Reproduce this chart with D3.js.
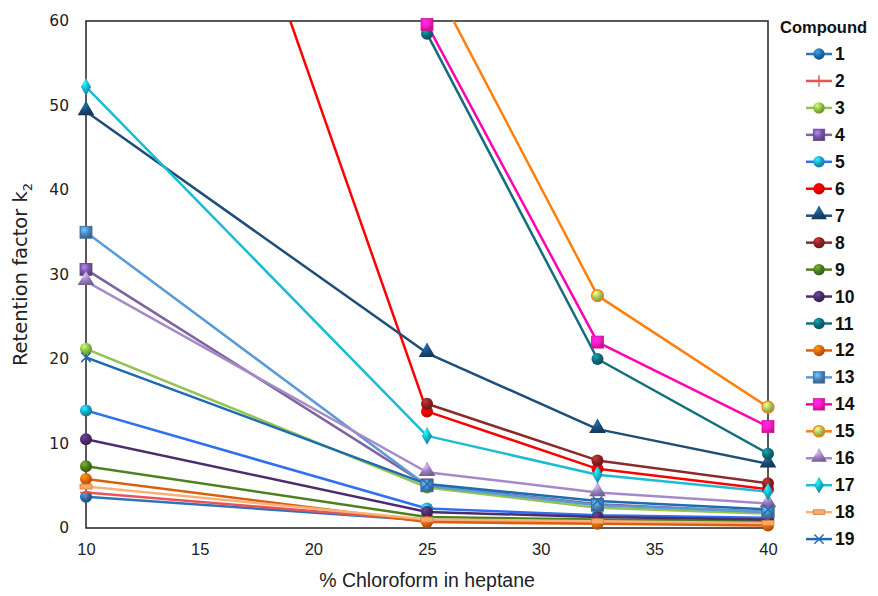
<!DOCTYPE html>
<html>
<head>
<meta charset="utf-8">
<script src="https://cdn.jsdelivr.net/npm/d3@7"></script>
<style>
  body { margin: 0; background: #fff; }
  svg { display: block; }
</style>
</head>
<body>
<div id="chart"></div>
<script>
// % chloroform in heptane
const xValues = [10, 25, 32.5, 40];
const compounds = ["1","2","3","4","5","6","7","8","9","10","11","12","13","14","15","16","17","18","19"];

// retention factor k2 per compound (null = not measured)
const k1  = [3.7, 0.9, 0.7, 0.6];
const k2  = [4.2, 0.9, 0.7, 0.5];
const k3  = [21.2, 4.8, 2.4, 1.7];
const k4  = [30.6, 5.1, 2.8, 1.9];
const k5  = [13.9, 2.3, 1.5, 1.2];
const k6  = [129, 13.8, 7.0, 4.6];
const k7  = [49.3, 20.7, 11.7, 7.6];
const k8  = [null, 14.7, 8.0, 5.3];
const k9  = [7.3, 1.3, 1.0, 0.8];
const k10 = [10.5, 1.9, 1.3, 1.0];
const k11 = [null, 58.5, 20.0, 8.8];
const k12 = [5.8, 0.7, 0.5, 0.3];
const k13 = [35.0, 5.0, 2.7, 1.9];
const k14 = [null, 59.6, 22.0, 12.0];
const k15 = [null, 66.0, 27.5, 14.3];
const k16 = [29.2, 6.6, 4.2, 2.9];
const k17 = [52.2, 10.9, 6.3, 4.3];
const k18 = [4.9, 1.0, 0.8, 0.6];
const k19 = [20.2, 5.2, 3.2, 2.2];
const seriesValues = [k1,k2,k3,k4,k5,k6,k7,k8,k9,k10,k11,k12,k13,k14,k15,k16,k17,k18,k19];

const xTicks = [10, 15, 20, 25, 30, 35, 40];
const yTicks = [0, 10, 20, 30, 40, 50, 60];

// styles: line colour, marker fill, marker shape
const styles = [
  {line: "#2E75B6", fill: "#1F6DB0", shape: "sphere"},
  {line: "#E8545A", fill: "#E8545A", shape: "plus"},
  {line: "#92C353", fill: "#8CBF45", shape: "sphere"},
  {line: "#8064A2", fill: "#7A58A8", shape: "square"},
  {line: "#3070F0", fill: "#18A3C4", shape: "sphere"},
  {line: "#FF0000", fill: "#F00000", shape: "sphere"},
  {line: "#1F4E79", fill: "#1A4A7A", shape: "triangle"},
  {line: "#8B2A2A", fill: "#8A2222", shape: "sphere"},
  {line: "#4F8020", fill: "#4A7A1E", shape: "sphere"},
  {line: "#4B2D6E", fill: "#4A2C6A", shape: "sphere"},
  {line: "#11707C", fill: "#0F6C78", shape: "sphere"},
  {line: "#D9600C", fill: "#E0650A", shape: "sphere"},
  {line: "#5B9BD5", fill: "#4A86C0", shape: "square"},
  {line: "#FF00B4", fill: "#FF1AC0", shape: "square"},
  {line: "#FF7F0E", fill: "#A9C75A", shape: "sphere15"},
  {line: "#A48BC8", fill: "#9A80C0", shape: "triangle"},
  {line: "#1CBCD4", fill: "#16B0C8", shape: "diamond"},
  {line: "#F9B07A", fill: "#F9A86A", shape: "dash"},
  {line: "#1E6BB0", fill: "#1E6BB0", shape: "cross"}
];

const W = 878, H = 596;
const margin = {top: 21, right: 110, bottom: 68, left: 86};
const width = W - margin.left - margin.right;   // 682
const height = H - margin.top - margin.bottom;  // 507

const svg = d3.select("#chart").append("svg")
  .attr("width", W).attr("height", H);

const defs = svg.append("defs");
defs.append("clipPath").attr("id", "plotclip")
  .append("rect").attr("x", 0).attr("y", 0).attr("width", width).attr("height", height);

// sphere gradients
styles.forEach(function(s, i) {
  const g = defs.append("radialGradient").attr("id", "grad" + i)
    .attr("cx", "35%").attr("cy", "30%").attr("r", "70%");
  g.append("stop").attr("offset", "0%").attr("stop-color", d3.color(s.fill).brighter(1.2));
  g.append("stop").attr("offset", "55%").attr("stop-color", s.fill);
  g.append("stop").attr("offset", "100%").attr("stop-color", d3.color(s.fill).darker(0.8));
});

const g = svg.append("g").attr("transform", "translate(" + margin.left + "," + margin.top + ")");

const x = d3.scaleLinear().domain([10, 40]).range([0, width]);
const y = d3.scaleLinear().domain([0, 60]).range([height, 0]);

// frame
g.append("rect").attr("x", 0).attr("y", 0).attr("width", width).attr("height", height)
  .attr("fill", "none").attr("stroke", "#222").attr("stroke-width", 1.5);

// y axis labels
g.append("g")
  .call(d3.axisLeft(y).tickValues(yTicks).tickSize(0).tickPadding(17))
  .call(a => a.select(".domain").remove())
  .selectAll("text")
    .attr("font-family", "DejaVu Sans, Verdana, sans-serif")
    .attr("font-size", 15.5).attr("fill", "#222");

// x axis labels
g.append("g").attr("transform", "translate(0," + height + ")")
  .call(d3.axisBottom(x).tickValues(xTicks).tickSize(0).tickPadding(15))
  .call(a => a.select(".domain").remove())
  .selectAll("text")
    .attr("font-family", "Liberation Sans, Arial, sans-serif")
    .attr("font-size", 16.5).attr("fill", "#222");

// titles
svg.append("text")
  .attr("x", margin.left + width / 2).attr("y", 587)
  .attr("text-anchor", "middle")
  .attr("font-family", "Liberation Sans, Arial, sans-serif")
  .attr("font-size", 19.5).attr("fill", "#222")
  .text("% Chloroform in heptane");

const yt = svg.append("text")
  .attr("transform", "translate(27," + (margin.top + height / 2) + ") rotate(-90)")
  .attr("text-anchor", "middle")
  .attr("font-family", "DejaVu Sans, Verdana, sans-serif")
  .attr("font-size", 19.5).attr("fill", "#222");
yt.append("tspan").text("Retention factor k");
yt.append("tspan").attr("font-size", 13).attr("dy", 5).text("2");

// marker drawing
function drawMarker(sel, s, i, cx, cy, scale) {
  const r = 6 * scale;
  if (s.shape === "sphere" || s.shape === "sphere15") {
    sel.append("circle").attr("cx", cx).attr("cy", cy).attr("r", r)
      .attr("fill", "url(#grad" + i + ")")
      .attr("stroke", s.shape === "sphere15" ? s.line : "none")
      .attr("stroke-width", s.shape === "sphere15" ? 1.2 : 0);
  } else if (s.shape === "square") {
    sel.append("rect").attr("x", cx - r).attr("y", cy - r)
      .attr("width", 2 * r).attr("height", 2 * r)
      .attr("fill", "url(#grad" + i + ")")
      .attr("stroke", d3.color(s.fill).darker(0.6)).attr("stroke-width", 0.8);
  } else if (s.shape === "triangle") {
    sel.append("path")
      .attr("d", d3.symbol().type(d3.symbolTriangle).size(120 * scale * scale)())
      .attr("transform", "translate(" + cx + "," + (cy - 1) + ")")
      .attr("fill", "url(#grad" + i + ")");
  } else if (s.shape === "diamond") {
    sel.append("path")
      .attr("d", d3.symbol().type(d3.symbolDiamond).size(90 * scale * scale)())
      .attr("transform", "translate(" + cx + "," + cy + ")")
      .attr("fill", "url(#grad" + i + ")");
  } else if (s.shape === "plus") {
    sel.append("path")
      .attr("d", "M" + (cx - r) + "," + cy + "H" + (cx + r) + "M" + cx + "," + (cy - r) + "V" + (cy + r))
      .attr("stroke", s.fill).attr("stroke-width", 1.5);
  } else if (s.shape === "cross") {
    const c = r * 0.8;
    sel.append("path")
      .attr("d", "M" + (cx - c) + "," + (cy - c) + "L" + (cx + c) + "," + (cy + c) +
                 "M" + (cx - c) + "," + (cy + c) + "L" + (cx + c) + "," + (cy - c))
      .attr("stroke", s.fill).attr("stroke-width", 1.5);
  } else if (s.shape === "dash") {
    sel.append("rect").attr("x", cx - r).attr("y", cy - 2.5 * scale)
      .attr("width", 2 * r).attr("height", 5 * scale)
      .attr("fill", s.fill).attr("stroke", "#D08040").attr("stroke-width", 0.8);
  }
}

// lines
const plot = g.append("g").attr("clip-path", "url(#plotclip)");
const line = d3.line()
  .defined(d => d.v !== null)
  .x(d => x(d.x)).y(d => y(d.v));

seriesValues.forEach(function(vals, i) {
  const pts = xValues.map((xv, j) => ({x: xv, v: vals[j]}));
  plot.append("path").datum(pts)
    .attr("fill", "none").attr("stroke", styles[i].line)
    .attr("stroke-width", 2.5).attr("stroke-linejoin", "round")
    .attr("d", line);
});

// markers
const marks = g.append("g");
seriesValues.forEach(function(vals, i) {
  vals.forEach(function(v, j) {
    if (v === null || v > 60) return;
    drawMarker(marks, styles[i], i, x(xValues[j]), y(v), 1);
  });
});

// legend
const lg = svg.append("g");
lg.append("text").attr("x", 780).attr("y", 33)
  .attr("font-family", "Liberation Sans, Arial, sans-serif")
  .attr("font-weight", "bold").attr("font-size", 16.5).attr("fill", "#111")
  .text("Compound");

compounds.forEach(function(name, i) {
  const cy = 54 + i * 26.95;
  lg.append("line").attr("x1", 806).attr("x2", 832).attr("y1", cy).attr("y2", cy)
    .attr("stroke", styles[i].line).attr("stroke-width", 2.5);
  drawMarker(lg, styles[i], i, 819, cy, 0.95);
  lg.append("text").attr("x", 835).attr("y", cy + 6)
    .attr("font-family", "Liberation Sans, Arial, sans-serif")
    .attr("font-weight", "bold").attr("font-size", 17.5).attr("fill", "#111")
    .text(name);
});
</script>
</body>
</html>
